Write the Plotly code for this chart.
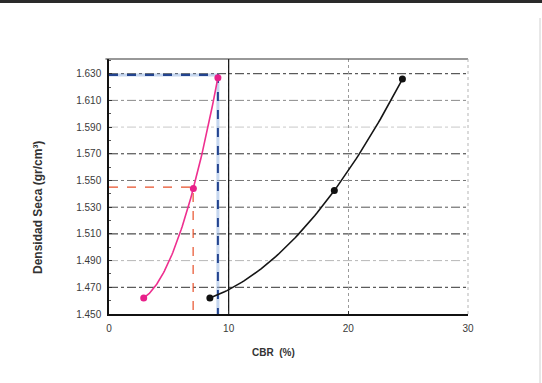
import numpy as np
import plotly.graph_objects as go

# CBR test results: dry density vs CBR for two samples
cbr_a = [2.9, 7.05, 9.1]
dens_a = [1.462, 1.544, 1.627]

cbr_b = [8.43, 18.83, 24.52]
dens_b = [1.462, 1.5425, 1.626]

# Read-off guides for sample A
red_cbr, red_dens = 7.03, 1.545
blue_cbr, blue_dens = 9.1, 1.629

x_ticks = [0, 10, 20, 30]
y_ticks = [1.45, 1.47, 1.49, 1.51, 1.53, 1.55, 1.57, 1.59, 1.61, 1.63]
y_labels = ["1.450", "1.470", "1.490", "1.510", "1.530", "1.550", "1.570", "1.590", "1.610", "1.630"]

X_MIN, X_MAX = 0, 30
Y_MIN, Y_MAX = 1.45, 1.641

# gridline tone per level (printed copy: some lines came out darker than others)
grid_tones = ["#111111", "#333333", "#b8b8b8", "#222222", "#555555",
              "#777777", "#333333", "#c8c8c8", "#8a8a8a", "#333333"]

W, H = 542, 383
ML, MR, MT, MB = 109, 74, 59, 69
plot_h = H - MT - MB
plot_w = W - ML - MR


def poly2_trend(xs, ys, n=80):
    """Second-order polynomial trendline over the data's own x range."""
    coef = np.polyfit(xs, ys, 2)
    xf = np.linspace(min(xs), max(xs), n)
    return xf, np.polyval(coef, xf)


fig = go.Figure()

# guide lines (drawn first, under the curves)
fig.add_trace(go.Scatter(x=[X_MIN, red_cbr, red_cbr], y=[red_dens, red_dens, Y_MIN],
                         mode="lines", line=dict(color="#e8502a", width=1.2, dash="dash"),
                         hoverinfo="skip", showlegend=False))
fig.add_trace(go.Scatter(x=[X_MIN, blue_cbr, blue_cbr], y=[blue_dens, blue_dens, Y_MIN],
                         mode="lines", line=dict(color="#8fb0e0", width=3),
                         opacity=0.5, hoverinfo="skip", showlegend=False))
fig.add_trace(go.Scatter(x=[X_MIN, blue_cbr, blue_cbr], y=[blue_dens, blue_dens, Y_MIN],
                         mode="lines", line=dict(color="#23448f", width=2, dash="dash"),
                         hoverinfo="skip", showlegend=False))

# vertical reference at CBR = 10
fig.add_trace(go.Scatter(x=[10, 10], y=[Y_MIN, Y_MAX], mode="lines",
                         line=dict(color="#111111", width=1.2),
                         hoverinfo="skip", showlegend=False))

for xs, ys, lc, mc in [(cbr_a, dens_a, "#ee2f8f", "#e8208a"),
                       (cbr_b, dens_b, "#151515", "#111111")]:
    tx, ty = poly2_trend(xs, ys)
    fig.add_trace(go.Scatter(x=tx, y=ty, mode="lines", line=dict(color=lc, width=1.6),
                             hoverinfo="skip", showlegend=False))
    fig.add_trace(go.Scatter(x=xs, y=ys, mode="markers",
                             marker=dict(color=mc, size=7), showlegend=False))

font = "Liberation Sans, Arial, sans-serif"

fig.update_xaxes(range=[X_MIN, X_MAX], tickvals=x_ticks, ticktext=[str(v) for v in x_ticks],
                 showgrid=True, gridcolor="#9a9a9a", griddash="dot", gridwidth=1,
                 zeroline=False, showline=True, linecolor="#111111", linewidth=1.5,
                 ticks="inside", ticklen=3, tickcolor="#333333", ticklabelstandoff=4,
                 tickfont=dict(family=font, size=10, color="#3a3a3a"))
fig.update_yaxes(range=[Y_MIN, Y_MAX], tickvals=y_ticks, ticktext=y_labels,
                 showgrid=False,
                 zeroline=False, showline=True, linecolor="#111111", linewidth=1.5,
                 ticks="inside", ticklen=3, tickcolor="#333333", ticklabelstandoff=4,
                 minor=dict(ticks="inside", ticklen=2, tickcolor="#555555", dtick=0.01,
                            showgrid=False),
                 tickfont=dict(family=font, size=10, color="#3a3a3a"))

shapes = []
for yv, tone in zip(y_ticks[1:], grid_tones[1:]):
    shapes.append(dict(type="line", xref="paper", yref="y", x0=0, x1=1, y0=yv, y1=yv,
                       line=dict(color=tone, width=1, dash="dashdot"), layer="below"))

shapes += [
    # plot-area border (top dark, right light)
    dict(type="line", xref="paper", yref="paper", x0=-0.01, x1=1, y0=1, y1=1,
         line=dict(color="#333333", width=1.2)),
    dict(type="line", xref="paper", yref="paper", x0=1, x1=1, y0=0, y1=1,
         line=dict(color="#b5b5b5", width=1, dash="dot")),
    # page edge along the top and outer frame on the right
    dict(type="rect", xref="paper", yref="paper", x0=-ML / plot_w, x1=1 + MR / plot_w,
         y0=1 + (MT - 3) / plot_h, y1=1 + MT / plot_h,
         line=dict(width=0), fillcolor="#2a2a2a"),
    dict(type="line", xref="paper", yref="paper",
         x0=1 + (MR - 2) / plot_w, x1=1 + (MR - 2) / plot_w,
         y0=-MB / plot_h, y1=1 + (MT - 18) / plot_h,
         line=dict(color="#d0d0d0", width=1)),
]

annotations = [
    dict(text="<b>CBR  (%)</b>", xref="paper", yref="paper",
         x=(273 - ML) / plot_w, y=-(352 - (H - MB)) / plot_h,
         showarrow=False, xanchor="center", yanchor="middle",
         font=dict(family=font, size=10, color="#333333")),
    dict(text="<b>Densidad Seca (gr/cm³)</b>", xref="paper", yref="paper",
         x=-(ML - 38) / plot_w, y=1 - (208 - MT) / plot_h, textangle=-90,
         showarrow=False, xanchor="center", yanchor="middle",
         font=dict(family=font, size=12, color="#333333")),
]

fig.update_layout(width=W, height=H, autosize=False,
                  margin=dict(l=ML, r=MR, t=MT, b=MB),
                  paper_bgcolor="white", plot_bgcolor="white",
                  shapes=shapes, annotations=annotations, showlegend=False)

fig.write_html("out.html")
